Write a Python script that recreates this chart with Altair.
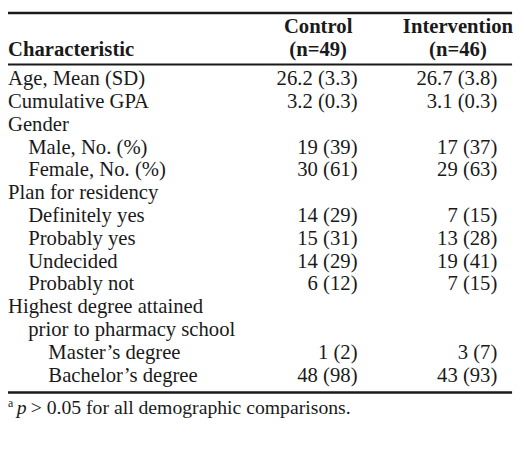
import altair as alt
import pandas as pd

# ---- table content ----
labels = [
    "Age, Mean (SD)", "Cumulative GPA", "Gender", "Male, No. (%)", "Female, No. (%)",
    "Plan for residency", "Definitely yes", "Probably yes", "Undecided", "Probably not",
    "Highest degree attained", "prior to pharmacy school", "Master\u2019s degree", "Bachelor\u2019s degree",
]
levels = [0, 0, 0, 1, 1, 0, 1, 1, 1, 1, 0, 1, 2, 2]
control = ["26.2 (3.3)", "3.2 (0.3)", "", "19 (39)", "30 (61)", "", "14 (29)", "15 (31)",
           "14 (29)", "6 (12)", "", "", "1 (2)", "48 (98)"]
intervention = ["26.7 (3.8)", "3.1 (0.3)", "", "17 (37)", "29 (63)", "", "7 (15)", "13 (28)",
                "19 (41)", "7 (15)", "", "", "3 (7)", "43 (93)"]
header_col = ["Characteristic", "Control", "Intervention"]
header_n = ["", "(n=49)", "(n=46)"]
footnote_mark = "a"
footnote_p = "p"
footnote_text = "> 0.05 for all demographic comparisons."

body = pd.DataFrame({
    "row": list(range(len(labels))),
    "label": labels,
    "level": levels,
    "control": control,
    "intervention": intervention,
})

W, H = 517, 445
FONT = "Liberation Serif"
BODY = 21
HEAD = 21
INK = "#1a1a1a"

yrow = alt.Y("row:Q", scale=alt.Scale(domain=[0, 13], range=[75, 376]), axis=None)
xlev = alt.X("level:Q", scale=alt.Scale(domain=[0, 2], range=[0, 41]), axis=None)

base = alt.Chart(body)

lab = base.mark_text(align="left", baseline="alphabetic", font=FONT, fontSize=BODY, color=INK).encode(
    x=xlev, y=yrow, text="label:N")
c1 = base.mark_text(align="right", baseline="alphabetic", font=FONT, fontSize=BODY, color=INK).encode(
    x=alt.value(355), y=yrow, text="control:N")
c2 = base.mark_text(align="right", baseline="alphabetic", font=FONT, fontSize=BODY, color=INK).encode(
    x=alt.value(497), y=yrow, text="intervention:N")
body_layer = alt.layer(lab, c1, c2)

hdr = pd.DataFrame({"col": [0, 1, 2], "top": ["", header_col[1], header_col[2]],
                    "bottom": [header_col[0], header_n[1], header_n[2]]})
xcol = alt.X("col:Q", scale=alt.Scale(domain=[1, 2], range=[315, 457]), axis=None)
h_top = alt.Chart(hdr).transform_filter("datum.col > 0").mark_text(
    align="center", baseline="alphabetic", font=FONT, fontSize=HEAD, fontWeight="bold", color=INK).encode(
    x=xcol, y=alt.value(22), text="top:N")
h_bot = alt.Chart(hdr).transform_filter("datum.col > 0").mark_text(
    align="center", baseline="alphabetic", font=FONT, fontSize=HEAD, fontWeight="bold", color=INK).encode(
    x=xcol, y=alt.value(45), text="bottom:N")
h_char = alt.Chart(hdr).transform_filter("datum.col == 0").mark_text(
    align="left", baseline="alphabetic", font=FONT, fontSize=HEAD, fontWeight="bold", color=INK).encode(
    x=alt.value(0), y=alt.value(45), text="bottom:N")
head_layer = alt.layer(h_top, h_bot, h_char)

rules = pd.DataFrame({"pos": ["top", "mid", "bottom"]})
r_top = alt.Chart(rules).transform_filter("datum.pos == 'top'").mark_rule(color=INK, strokeWidth=2.5).encode(
    x=alt.value(0), x2=alt.value(512), y=alt.value(1.5))
r_mid = alt.Chart(rules).transform_filter("datum.pos == 'mid'").mark_rule(color=INK, strokeWidth=2).encode(
    x=alt.value(0), x2=alt.value(512), y=alt.value(54))
r_bot = alt.Chart(rules).transform_filter("datum.pos == 'bottom'").mark_rule(color=INK, strokeWidth=2.5).encode(
    x=alt.value(0), x2=alt.value(512), y=alt.value(387))

foot = pd.DataFrame({"mark": [footnote_mark], "p": [footnote_p], "txt": [footnote_text]})
f_a = alt.Chart(foot).mark_text(align="left", baseline="alphabetic", font=FONT, fontSize=12, color=INK).encode(
    x=alt.value(0), y=alt.value(402), text="mark:N")
f_p = alt.Chart(foot).mark_text(align="left", baseline="alphabetic", font=FONT, fontSize=20, fontStyle="italic", color=INK).encode(
    x=alt.value(9), y=alt.value(409), text="p:N")
f_t = alt.Chart(foot).mark_text(align="left", baseline="alphabetic", font=FONT, fontSize=20, color=INK).encode(
    x=alt.value(23), y=alt.value(409), text="txt:N")

chart = alt.layer(r_top, r_mid, r_bot, head_layer, body_layer, f_a, f_p, f_t).resolve_scale(
    x="independent", y="independent"
).properties(
    width=W, height=H, padding=0, autosize=alt.AutoSizeParams(type="none"),
    background="white",
).configure_view(stroke=None)

chart.save("out.html", embed_options={"renderer": "svg", "actions": False})
